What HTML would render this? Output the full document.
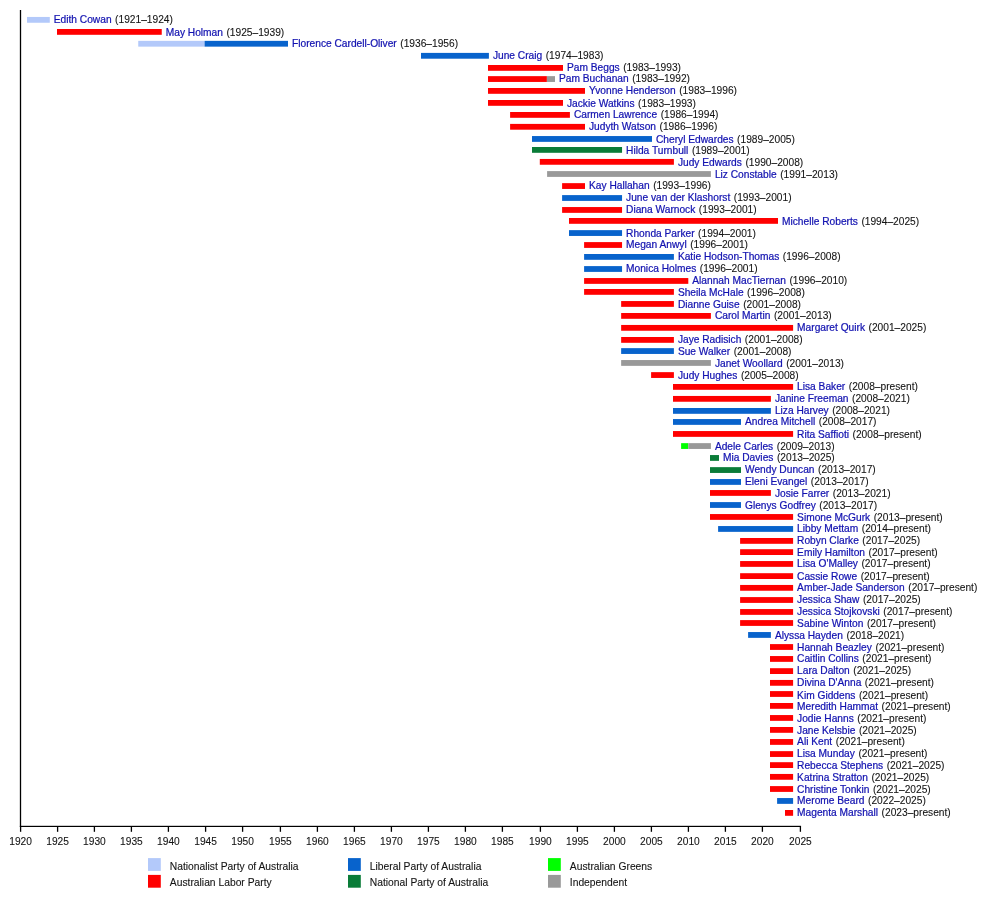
<!DOCTYPE html>
<html><head><meta charset="utf-8"><style>
html,body{margin:0;padding:0;background:#fff;width:1000px;height:906px;overflow:hidden}
svg{display:block}
svg{will-change:transform}
.n{fill:#1212b0;stroke:#1212b0;stroke-width:0.22px}
text{font-family:"Liberation Sans",sans-serif;font-size:10.2px;fill:#141414;stroke:#141414;stroke-width:0.1px}
</style></head><body>
<svg width="1000" height="906" viewBox="0 0 1000 906">
<rect x="27.04" y="16.95" width="22.76" height="5.8" fill="#b3c9fa"/>
<text x="53.80" y="23.15"><tspan class="n">Edith Cowan</tspan><tspan dx="0.7"> (1921–1924)</tspan></text>
<rect x="57.00" y="29.00" width="104.75" height="5.8" fill="#ff0000"/>
<text x="165.75" y="35.98"><tspan class="n">May Holman</tspan><tspan dx="0.7"> (1925–1939)</tspan></text>
<rect x="138.25" y="40.85" width="66.35" height="5.8" fill="#b3c9fa"/>
<rect x="204.60" y="40.85" width="83.40" height="5.8" fill="#0863cc"/>
<text x="292.00" y="47.21"><tspan class="n">Florence Cardell-Oliver</tspan><tspan dx="0.7"> (1936–1956)</tspan></text>
<rect x="421.00" y="52.90" width="67.90" height="5.8" fill="#0863cc"/>
<text x="492.90" y="59.04"><tspan class="n">June Craig</tspan><tspan dx="0.7"> (1974–1983)</tspan></text>
<rect x="488.00" y="65.00" width="75.00" height="5.8" fill="#ff0000"/>
<text x="567.00" y="70.87"><tspan class="n">Pam Beggs</tspan><tspan dx="0.7"> (1983–1993)</tspan></text>
<rect x="488.00" y="76.15" width="58.90" height="5.8" fill="#ff0000"/>
<rect x="546.90" y="76.15" width="8.10" height="5.8" fill="#999999"/>
<text x="559.00" y="82.30"><tspan class="n">Pam Buchanan</tspan><tspan dx="0.7"> (1983–1992)</tspan></text>
<rect x="488.00" y="88.00" width="97.00" height="5.8" fill="#ff0000"/>
<text x="589.00" y="94.43"><tspan class="n">Yvonne Henderson</tspan><tspan dx="0.7"> (1983–1996)</tspan></text>
<rect x="488.00" y="100.00" width="75.00" height="5.8" fill="#ff0000"/>
<text x="567.00" y="106.56"><tspan class="n">Jackie Watkins</tspan><tspan dx="0.7"> (1983–1993)</tspan></text>
<rect x="510.10" y="112.00" width="59.80" height="5.8" fill="#ff0000"/>
<text x="573.90" y="117.94"><tspan class="n">Carmen Lawrence</tspan><tspan dx="0.7"> (1986–1994)</tspan></text>
<rect x="510.10" y="123.90" width="74.90" height="5.8" fill="#ff0000"/>
<text x="589.00" y="129.62"><tspan class="n">Judyth Watson</tspan><tspan dx="0.7"> (1986–1996)</tspan></text>
<rect x="532.00" y="136.05" width="120.00" height="5.8" fill="#0863cc"/>
<text x="656.00" y="142.55"><tspan class="n">Cheryl Edwardes</tspan><tspan dx="0.7"> (1989–2005)</tspan></text>
<rect x="532.00" y="147.00" width="90.05" height="5.8" fill="#0a7c38"/>
<text x="626.05" y="154.38"><tspan class="n">Hilda Turnbull</tspan><tspan dx="0.7"> (1989–2001)</tspan></text>
<rect x="539.80" y="158.95" width="134.10" height="5.8" fill="#ff0000"/>
<text x="677.90" y="165.81"><tspan class="n">Judy Edwards</tspan><tspan dx="0.7"> (1990–2008)</tspan></text>
<rect x="547.10" y="171.10" width="163.80" height="5.8" fill="#999999"/>
<text x="714.90" y="178.04"><tspan class="n">Liz Constable</tspan><tspan dx="0.7"> (1991–2013)</tspan></text>
<rect x="562.10" y="183.15" width="22.90" height="5.8" fill="#ff0000"/>
<text x="589.00" y="189.37"><tspan class="n">Kay Hallahan</tspan><tspan dx="0.7"> (1993–1996)</tspan></text>
<rect x="562.10" y="195.10" width="59.95" height="5.8" fill="#0863cc"/>
<text x="626.05" y="201.10"><tspan class="n">June van der Klashorst</tspan><tspan dx="0.7"> (1993–2001)</tspan></text>
<rect x="562.10" y="207.05" width="59.95" height="5.8" fill="#ff0000"/>
<text x="626.05" y="212.83"><tspan class="n">Diana Warnock</tspan><tspan dx="0.7"> (1993–2001)</tspan></text>
<rect x="569.00" y="218.00" width="209.00" height="5.8" fill="#ff0000"/>
<text x="782.00" y="225.46"><tspan class="n">Michelle Roberts</tspan><tspan dx="0.7"> (1994–2025)</tspan></text>
<rect x="569.00" y="230.15" width="53.05" height="5.8" fill="#0863cc"/>
<text x="626.05" y="236.64"><tspan class="n">Rhonda Parker</tspan><tspan dx="0.7"> (1994–2001)</tspan></text>
<rect x="584.10" y="242.10" width="37.95" height="5.8" fill="#ff0000"/>
<text x="626.05" y="248.47"><tspan class="n">Megan Anwyl</tspan><tspan dx="0.7"> (1996–2001)</tspan></text>
<rect x="584.10" y="254.00" width="89.80" height="5.8" fill="#0863cc"/>
<text x="677.90" y="259.75"><tspan class="n">Katie Hodson-Thomas</tspan><tspan dx="0.7"> (1996–2008)</tspan></text>
<rect x="584.10" y="266.10" width="37.95" height="5.8" fill="#0863cc"/>
<text x="626.05" y="272.13"><tspan class="n">Monica Holmes</tspan><tspan dx="0.7"> (1996–2001)</tspan></text>
<rect x="584.10" y="278.05" width="104.20" height="5.8" fill="#ff0000"/>
<text x="692.30" y="283.96"><tspan class="n">Alannah MacTiernan</tspan><tspan dx="0.7"> (1996–2010)</tspan></text>
<rect x="584.10" y="289.00" width="89.80" height="5.8" fill="#ff0000"/>
<text x="677.90" y="295.74"><tspan class="n">Sheila McHale</tspan><tspan dx="0.7"> (1996–2008)</tspan></text>
<rect x="621.15" y="301.05" width="52.75" height="5.8" fill="#ff0000"/>
<text x="677.90" y="307.77"><tspan class="n">Dianne Guise</tspan><tspan dx="0.7"> (2001–2008)</tspan></text>
<rect x="621.15" y="313.00" width="89.75" height="5.8" fill="#ff0000"/>
<text x="714.90" y="319.20"><tspan class="n">Carol Martin</tspan><tspan dx="0.7"> (2001–2013)</tspan></text>
<rect x="621.15" y="324.95" width="171.95" height="5.8" fill="#ff0000"/>
<text x="797.10" y="330.73"><tspan class="n">Margaret Quirk</tspan><tspan dx="0.7"> (2001–2025)</tspan></text>
<rect x="621.15" y="337.00" width="52.75" height="5.8" fill="#ff0000"/>
<text x="677.90" y="342.56"><tspan class="n">Jaye Radisich</tspan><tspan dx="0.7"> (2001–2008)</tspan></text>
<rect x="621.15" y="348.15" width="52.75" height="5.8" fill="#0863cc"/>
<text x="677.90" y="354.89"><tspan class="n">Sue Walker</tspan><tspan dx="0.7"> (2001–2008)</tspan></text>
<rect x="621.15" y="360.05" width="89.75" height="5.8" fill="#999999"/>
<text x="714.90" y="366.72"><tspan class="n">Janet Woollard</tspan><tspan dx="0.7"> (2001–2013)</tspan></text>
<rect x="651.10" y="372.15" width="22.80" height="5.8" fill="#ff0000"/>
<text x="677.90" y="379.05"><tspan class="n">Judy Hughes</tspan><tspan dx="0.7"> (2005–2008)</tspan></text>
<rect x="673.00" y="384.00" width="120.10" height="5.8" fill="#ff0000"/>
<text x="797.10" y="389.88"><tspan class="n">Lisa Baker</tspan><tspan dx="0.7"> (2008–present)</tspan></text>
<rect x="673.00" y="395.95" width="97.90" height="5.8" fill="#ff0000"/>
<text x="774.90" y="401.71"><tspan class="n">Janine Freeman</tspan><tspan dx="0.7"> (2008–2021)</tspan></text>
<rect x="673.00" y="408.00" width="97.90" height="5.8" fill="#0863cc"/>
<text x="774.90" y="413.74"><tspan class="n">Liza Harvey</tspan><tspan dx="0.7"> (2008–2021)</tspan></text>
<rect x="673.00" y="419.05" width="68.00" height="5.8" fill="#0863cc"/>
<text x="745.00" y="425.37"><tspan class="n">Andrea Mitchell</tspan><tspan dx="0.7"> (2008–2017)</tspan></text>
<rect x="673.00" y="431.05" width="120.10" height="5.8" fill="#ff0000"/>
<text x="797.10" y="438.00"><tspan class="n">Rita Saffioti</tspan><tspan dx="0.7"> (2008–present)</tspan></text>
<rect x="681.10" y="443.15" width="7.20" height="5.8" fill="#00ff00"/>
<rect x="688.30" y="443.15" width="22.60" height="5.8" fill="#999999"/>
<text x="714.90" y="449.83"><tspan class="n">Adele Carles</tspan><tspan dx="0.7"> (2009–2013)</tspan></text>
<rect x="710.00" y="455.05" width="9.00" height="5.8" fill="#0a7c38"/>
<text x="723.00" y="461.36"><tspan class="n">Mia Davies</tspan><tspan dx="0.7"> (2013–2025)</tspan></text>
<rect x="710.00" y="467.15" width="31.00" height="5.8" fill="#0a7c38"/>
<text x="745.00" y="472.69"><tspan class="n">Wendy Duncan</tspan><tspan dx="0.7"> (2013–2017)</tspan></text>
<rect x="710.00" y="479.05" width="31.00" height="5.8" fill="#0863cc"/>
<text x="745.00" y="484.52"><tspan class="n">Eleni Evangel</tspan><tspan dx="0.7"> (2013–2017)</tspan></text>
<rect x="710.00" y="490.05" width="60.90" height="5.8" fill="#ff0000"/>
<text x="774.90" y="497.45"><tspan class="n">Josie Farrer</tspan><tspan dx="0.7"> (2013–2021)</tspan></text>
<rect x="710.00" y="502.10" width="31.00" height="5.8" fill="#0863cc"/>
<text x="745.00" y="508.98"><tspan class="n">Glenys Godfrey</tspan><tspan dx="0.7"> (2013–2017)</tspan></text>
<rect x="710.00" y="514.05" width="83.10" height="5.8" fill="#ff0000"/>
<text x="797.10" y="521.11"><tspan class="n">Simone McGurk</tspan><tspan dx="0.7"> (2013–present)</tspan></text>
<rect x="718.10" y="526.05" width="75.00" height="5.8" fill="#0863cc"/>
<text x="797.10" y="531.84"><tspan class="n">Libby Mettam</tspan><tspan dx="0.7"> (2014–present)</tspan></text>
<rect x="740.10" y="538.00" width="53.00" height="5.8" fill="#ff0000"/>
<text x="797.10" y="543.67"><tspan class="n">Robyn Clarke</tspan><tspan dx="0.7"> (2017–2025)</tspan></text>
<rect x="740.10" y="549.20" width="53.00" height="5.8" fill="#ff0000"/>
<text x="797.10" y="556.00"><tspan class="n">Emily Hamilton</tspan><tspan dx="0.7"> (2017–present)</tspan></text>
<rect x="740.10" y="561.05" width="53.00" height="5.8" fill="#ff0000"/>
<text x="797.10" y="567.33"><tspan class="n">Lisa O'Malley</tspan><tspan dx="0.7"> (2017–present)</tspan></text>
<rect x="740.10" y="573.20" width="53.00" height="5.8" fill="#ff0000"/>
<text x="797.10" y="580.26"><tspan class="n">Cassie Rowe</tspan><tspan dx="0.7"> (2017–present)</tspan></text>
<rect x="740.10" y="584.95" width="53.00" height="5.8" fill="#ff0000"/>
<text x="797.10" y="590.99"><tspan class="n">Amber-Jade Sanderson</tspan><tspan dx="0.7"> (2017–present)</tspan></text>
<rect x="740.10" y="597.10" width="53.00" height="5.8" fill="#ff0000"/>
<text x="797.10" y="603.37"><tspan class="n">Jessica Shaw</tspan><tspan dx="0.7"> (2017–2025)</tspan></text>
<rect x="740.10" y="609.05" width="53.00" height="5.8" fill="#ff0000"/>
<text x="797.10" y="614.65"><tspan class="n">Jessica Stojkovski</tspan><tspan dx="0.7"> (2017–present)</tspan></text>
<rect x="740.10" y="620.10" width="53.00" height="5.8" fill="#ff0000"/>
<text x="797.10" y="627.03"><tspan class="n">Sabine Winton</tspan><tspan dx="0.7"> (2017–present)</tspan></text>
<rect x="748.10" y="632.05" width="22.80" height="5.8" fill="#0863cc"/>
<text x="774.90" y="638.86"><tspan class="n">Alyssa Hayden</tspan><tspan dx="0.7"> (2018–2021)</tspan></text>
<rect x="770.00" y="644.10" width="23.10" height="5.8" fill="#ff0000"/>
<text x="797.10" y="650.69"><tspan class="n">Hannah Beazley</tspan><tspan dx="0.7"> (2021–present)</tspan></text>
<rect x="770.00" y="656.05" width="23.10" height="5.8" fill="#ff0000"/>
<text x="797.10" y="661.97"><tspan class="n">Caitlin Collins</tspan><tspan dx="0.7"> (2021–present)</tspan></text>
<rect x="770.00" y="668.20" width="23.10" height="5.8" fill="#ff0000"/>
<text x="797.10" y="673.80"><tspan class="n">Lara Dalton</tspan><tspan dx="0.7"> (2021–2025)</tspan></text>
<rect x="770.00" y="679.95" width="23.10" height="5.8" fill="#ff0000"/>
<text x="797.10" y="685.63"><tspan class="n">Divina D'Anna</tspan><tspan dx="0.7"> (2021–present)</tspan></text>
<rect x="770.00" y="691.10" width="23.10" height="5.8" fill="#ff0000"/>
<text x="797.10" y="698.56"><tspan class="n">Kim Giddens</tspan><tspan dx="0.7"> (2021–present)</tspan></text>
<rect x="770.00" y="703.00" width="23.10" height="5.8" fill="#ff0000"/>
<text x="797.10" y="709.89"><tspan class="n">Meredith Hammat</tspan><tspan dx="0.7"> (2021–present)</tspan></text>
<rect x="770.00" y="715.05" width="23.10" height="5.8" fill="#ff0000"/>
<text x="797.10" y="721.67"><tspan class="n">Jodie Hanns</tspan><tspan dx="0.7"> (2021–present)</tspan></text>
<rect x="770.00" y="727.00" width="23.10" height="5.8" fill="#ff0000"/>
<text x="797.10" y="733.50"><tspan class="n">Jane Kelsbie</tspan><tspan dx="0.7"> (2021–2025)</tspan></text>
<rect x="770.00" y="739.05" width="23.10" height="5.8" fill="#ff0000"/>
<text x="797.10" y="745.08"><tspan class="n">Ali Kent</tspan><tspan dx="0.7"> (2021–present)</tspan></text>
<rect x="770.00" y="751.15" width="23.10" height="5.8" fill="#ff0000"/>
<text x="797.10" y="756.61"><tspan class="n">Lisa Munday</tspan><tspan dx="0.7"> (2021–present)</tspan></text>
<rect x="770.00" y="762.20" width="23.10" height="5.8" fill="#ff0000"/>
<text x="797.10" y="769.44"><tspan class="n">Rebecca Stephens</tspan><tspan dx="0.7"> (2021–2025)</tspan></text>
<rect x="770.00" y="773.95" width="23.10" height="5.8" fill="#ff0000"/>
<text x="797.10" y="781.12"><tspan class="n">Katrina Stratton</tspan><tspan dx="0.7"> (2021–2025)</tspan></text>
<rect x="770.00" y="786.10" width="23.10" height="5.8" fill="#ff0000"/>
<text x="797.10" y="793.00"><tspan class="n">Christine Tonkin</tspan><tspan dx="0.7"> (2021–2025)</tspan></text>
<rect x="777.10" y="798.05" width="16.00" height="5.8" fill="#0863cc"/>
<text x="797.10" y="803.93"><tspan class="n">Merome Beard</tspan><tspan dx="0.7"> (2022–2025)</tspan></text>
<rect x="785.00" y="810.00" width="8.10" height="5.8" fill="#ff0000"/>
<text x="797.10" y="815.76"><tspan class="n">Magenta Marshall</tspan><tspan dx="0.7"> (2023–present)</tspan></text>
<rect x="19.85" y="10" width="1.3" height="817.00" fill="#000"/>
<rect x="19.85" y="825.80" width="781.20" height="1.2" fill="#000"/>
<rect x="19.95" y="826.4" width="1.3" height="5.4" fill="#000"/>
<text x="20.60" y="844.6" text-anchor="middle">1920</text>
<rect x="56.95" y="826.4" width="1.3" height="5.4" fill="#000"/>
<text x="57.60" y="844.6" text-anchor="middle">1925</text>
<rect x="93.75" y="826.4" width="1.3" height="5.4" fill="#000"/>
<text x="94.40" y="844.6" text-anchor="middle">1930</text>
<rect x="130.75" y="826.4" width="1.3" height="5.4" fill="#000"/>
<text x="131.40" y="844.6" text-anchor="middle">1935</text>
<rect x="167.75" y="826.4" width="1.3" height="5.4" fill="#000"/>
<text x="168.40" y="844.6" text-anchor="middle">1940</text>
<rect x="204.95" y="826.4" width="1.3" height="5.4" fill="#000"/>
<text x="205.60" y="844.6" text-anchor="middle">1945</text>
<rect x="241.95" y="826.4" width="1.3" height="5.4" fill="#000"/>
<text x="242.60" y="844.6" text-anchor="middle">1950</text>
<rect x="279.75" y="826.4" width="1.3" height="5.4" fill="#000"/>
<text x="280.40" y="844.6" text-anchor="middle">1955</text>
<rect x="316.75" y="826.4" width="1.3" height="5.4" fill="#000"/>
<text x="317.40" y="844.6" text-anchor="middle">1960</text>
<rect x="353.75" y="826.4" width="1.3" height="5.4" fill="#000"/>
<text x="354.40" y="844.6" text-anchor="middle">1965</text>
<rect x="390.75" y="826.4" width="1.3" height="5.4" fill="#000"/>
<text x="391.40" y="844.6" text-anchor="middle">1970</text>
<rect x="427.75" y="826.4" width="1.3" height="5.4" fill="#000"/>
<text x="428.40" y="844.6" text-anchor="middle">1975</text>
<rect x="464.75" y="826.4" width="1.3" height="5.4" fill="#000"/>
<text x="465.40" y="844.6" text-anchor="middle">1980</text>
<rect x="501.75" y="826.4" width="1.3" height="5.4" fill="#000"/>
<text x="502.40" y="844.6" text-anchor="middle">1985</text>
<rect x="539.75" y="826.4" width="1.3" height="5.4" fill="#000"/>
<text x="540.40" y="844.6" text-anchor="middle">1990</text>
<rect x="576.75" y="826.4" width="1.3" height="5.4" fill="#000"/>
<text x="577.40" y="844.6" text-anchor="middle">1995</text>
<rect x="613.75" y="826.4" width="1.3" height="5.4" fill="#000"/>
<text x="614.40" y="844.6" text-anchor="middle">2000</text>
<rect x="650.75" y="826.4" width="1.3" height="5.4" fill="#000"/>
<text x="651.40" y="844.6" text-anchor="middle">2005</text>
<rect x="687.75" y="826.4" width="1.3" height="5.4" fill="#000"/>
<text x="688.40" y="844.6" text-anchor="middle">2010</text>
<rect x="724.75" y="826.4" width="1.3" height="5.4" fill="#000"/>
<text x="725.40" y="844.6" text-anchor="middle">2015</text>
<rect x="761.75" y="826.4" width="1.3" height="5.4" fill="#000"/>
<text x="762.40" y="844.6" text-anchor="middle">2020</text>
<rect x="799.75" y="826.4" width="1.3" height="5.4" fill="#000"/>
<text x="800.40" y="844.6" text-anchor="middle">2025</text>
<rect x="148" y="858.1" width="12.8" height="12.8" fill="#b3c9fa"/>
<text x="169.8" y="869.60" style="font-size:10.3px">Nationalist Party of Australia</text>
<rect x="148" y="874.9" width="12.8" height="12.8" fill="#ff0000"/>
<text x="169.8" y="886.40" style="font-size:10.3px">Australian Labor Party</text>
<rect x="348" y="858.1" width="12.8" height="12.8" fill="#0863cc"/>
<text x="369.8" y="869.60" style="font-size:10.3px">Liberal Party of Australia</text>
<rect x="348" y="874.9" width="12.8" height="12.8" fill="#0a7c38"/>
<text x="369.8" y="886.40" style="font-size:10.3px">National Party of Australia</text>
<rect x="548" y="858.1" width="12.8" height="12.8" fill="#00ff00"/>
<text x="569.8" y="869.60" style="font-size:10.3px">Australian Greens</text>
<rect x="548" y="874.9" width="12.8" height="12.8" fill="#999999"/>
<text x="569.8" y="886.40" style="font-size:10.3px">Independent</text>
</svg></body></html>
